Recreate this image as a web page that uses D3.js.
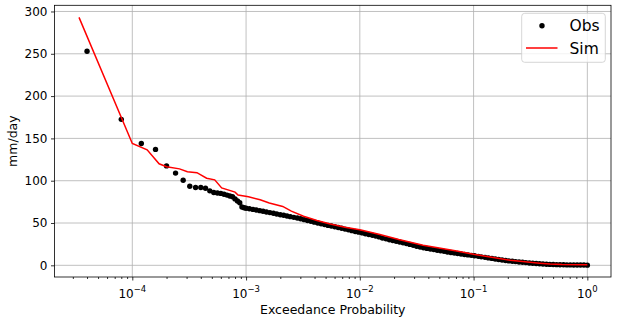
<!DOCTYPE html>
<html><head><meta charset="utf-8">
<script src="https://cdn.jsdelivr.net/npm/d3@7"></script>
<style>body{margin:0;background:#fff}svg{display:block}text{font-family:"DejaVu Sans",sans-serif}</style>
</head><body><svg id="c" width="618" height="324"></svg>
<script>
// Observed flow-duration points: exceedance probability and value (mm/day)
const obsP = [
4.0e-5,8.0e-5,1.2e-4,1.6e-4,2.0e-4,2.4e-4,2.8e-4,3.2e-4,3.6e-4,4.0e-4,
4.4e-4,4.8e-4,5.2e-4,5.6e-4,6.0e-4,6.4e-4,6.8e-4,7.2e-4,7.6e-4,8.0e-4,
8.4e-4,8.8e-4,9.2e-4,9.6e-4,1.0e-3,1.07e-3,1.15e-3,1.23e-3,1.32e-3,1.41e-3,
1.51e-3,1.62e-3,1.74e-3,1.86e-3,2.0e-3,2.14e-3,2.29e-3,2.45e-3,2.63e-3,2.82e-3,
3.02e-3,3.24e-3,3.47e-3,3.72e-3,3.98e-3,4.27e-3,4.57e-3,4.9e-3,5.25e-3,5.62e-3,
6.03e-3,6.46e-3,6.92e-3,7.41e-3,7.94e-3,8.51e-3,9.12e-3,9.77e-3,1.05e-2,1.12e-2,
1.2e-2,1.29e-2,1.38e-2,1.48e-2,1.58e-2,1.7e-2,1.82e-2,1.95e-2,2.09e-2,2.24e-2,
2.4e-2,2.57e-2,2.75e-2,2.95e-2,3.16e-2,3.39e-2,3.63e-2,3.89e-2,4.17e-2,4.47e-2,
4.79e-2,5.13e-2,5.5e-2,5.89e-2,6.31e-2,6.76e-2,7.24e-2,7.76e-2,8.32e-2,8.91e-2,
9.55e-2,0.102,0.11,0.117,0.126,0.135,0.145,0.155,0.166,0.178,
0.191,0.204,0.219,0.234,0.251,0.269,0.288,0.309,0.331,0.355,
0.38,0.407,0.437,0.468,0.501,0.537,0.575,0.617,0.661,0.708,
0.759,0.813,0.871,0.933,1.0];
const obsV = [
253,172.5,144,137,117.5,109,100.5,93.5,92,92,
91,88,86,85.5,85,84,83,82,81,78.5,
76,74,69,68,67.5,66.8,66.1,65.4,64.6,63.9,
63.1,62.3,61.5,60.7,59.8,59.1,58.3,57.5,56.7,55.9,
55,54,53,52,51,50,49,48.1,47.2,46.4,
45.6,44.7,43.8,42.8,41.9,41,40,39.2,38.3,37.4,
36.5,35.6,34.6,33.6,32.3,31.3,30.3,29.4,28.5,27.6,
26.7,25.7,24.7,23.6,22.5,21.6,20.8,20,19.3,18.6,
17.9,17.2,16.5,15.8,15.1,14.5,13.9,13.3,12.8,12.3,
11.8,11.3,10.6,10,9.4,8.8,8.2,7.5,6.9,6.3,
5.7,5.2,4.8,4.4,4,3.6,3.2,2.8,2.4,2.1,
1.8,1.5,1.3,1.1,0.9,0.8,0.7,0.6,0.5,0.5,
0.4,0.4,0.3,0.3,0.2];
// Simulated flow-duration curve
const simP = [3.4e-5,1.0e-4,1.35e-4,1.72e-4,2.0e-4,2.6e-4,3.05e-4,3.7e-4,4.5e-4,5.3e-4,
6.1e-4,8.0e-4,8.5e-4,1.05e-3,1.33e-3,1.6e-3,2.1e-3,2.5e-3,3.2e-3,4.2e-3,
5.5e-3,7.4e-3,1.0e-2,1.5e-2,2.2e-2,3.6e-2,7.1e-2,0.1,0.14,0.21,
0.27,0.38,0.47,0.6,1.0];
const simV = [293,144,136.5,120,116.5,114,110.5,109.5,103,101,
91.5,86.5,83,81,77.5,73.6,69.6,64,58,53,
48.8,45,42,36.5,30.5,23.6,17,13,9.9,6,
4.5,2.5,1.5,1,0.8];
const yTicks = [0,50,100,150,200,250,300];
const xTicks = [1e-4,1e-3,1e-2,1e-1,1];
const xTickExp = ["−4","−3","−2","−1","0"];
const legendLabels = ["Obs","Sim"];

const svg = d3.select("#c");
const L=54.5, R=611, T=5.3, B=277;
const x = d3.scaleLog().domain([Math.pow(10,-4.684), Math.pow(10,0.208)]).range([L,R]);
const y = d3.scaleLinear().domain([-13.8,307.3]).range([B,T]);

// grid
const g = svg.append("g");
g.selectAll(".gx").data(xTicks).enter().append("line")
 .attr("x1",d=>x(d)).attr("x2",d=>x(d)).attr("y1",T).attr("y2",B)
 .attr("stroke","#b0b0b0").attr("stroke-width",0.8);
g.selectAll(".gy").data(yTicks).enter().append("line")
 .attr("x1",L).attr("x2",R).attr("y1",d=>y(d)).attr("y2",d=>y(d))
 .attr("stroke","#b0b0b0").attr("stroke-width",0.8);

// data
const line = d3.line().x((d,i)=>x(simP[i])).y(d=>y(d));
svg.append("g").selectAll("circle").data(obsV).enter().append("circle")
 .attr("cx",(d,i)=>x(obsP[i])).attr("cy",d=>y(d)).attr("r",2.7).attr("fill","#000");
svg.append("path").datum(simV).attr("d",line).attr("fill","none").attr("stroke","#ff0000").attr("stroke-width",1.5);

// axes
const minor=[];
for(let e=-5;e<=0;e++){for(let k=2;k<=9;k++){const v=k*Math.pow(10,e); if(v>x.domain()[0]&&v<x.domain()[1]) minor.push(v);}}
const xa = svg.append("g").attr("transform",`translate(0,${B})`);
xa.call(d3.axisBottom(x).tickValues(minor).tickSize(2).tickFormat(""));
xa.append("g").call(d3.axisBottom(x).tickValues(xTicks).tickSize(3.5).tickFormat(""));
xa.selectAll(".domain").remove();
xa.selectAll("line").attr("stroke","#000").attr("stroke-width",0.8);
const xl = svg.append("g");
xTicks.forEach((t,i)=>{
  const tx = xl.append("text").attr("x",x(t)).attr("y",298).attr("text-anchor","middle").attr("font-size",12).attr("fill","#000");
  tx.append("tspan").text("10");
  tx.append("tspan").attr("dy",-6).attr("font-size",8.5).text(xTickExp[i]);
});
const ya = svg.append("g").attr("transform",`translate(${L},0)`)
 .call(d3.axisLeft(y).tickValues(yTicks).tickSize(3.5).tickPadding(3.5));
ya.select(".domain").remove();
ya.selectAll("line").attr("stroke","#000").attr("stroke-width",0.8);
ya.selectAll("text").attr("font-size",12).attr("font-family","DejaVu Sans").attr("fill","#000");

svg.append("rect").attr("x",L).attr("y",T).attr("width",R-L).attr("height",B-T)
 .attr("fill","none").attr("stroke","#000").attr("stroke-width",0.8);

svg.append("text").attr("x",(L+R)/2).attr("y",314).attr("text-anchor","middle").attr("font-size",12.5).text("Exceedance Probability");
svg.append("text").attr("transform",`translate(17,${(T+B)/2}) rotate(-90)`).attr("text-anchor","middle").attr("font-size",12.5).text("mm/day");

// legend
const lg = svg.append("g");
lg.append("rect").attr("x",521.7).attr("y",13.3).attr("width",83.6).attr("height",49).attr("rx",3)
 .attr("fill","#fff").attr("fill-opacity",0.8).attr("stroke","#cccccc").attr("stroke-width",0.8);
lg.append("circle").attr("cx",542).attr("cy",25.7).attr("r",2.7).attr("fill","#000");
lg.append("line").attr("x1",526).attr("x2",557.5).attr("y1",48).attr("y2",48).attr("stroke","#ff0000").attr("stroke-width",1.5);
lg.selectAll("text.l").data(legendLabels).enter().append("text")
 .attr("x",569.5).attr("y",(d,i)=>31.3+i*22.6).attr("font-size",15.5).text(d=>d);
</script></body></html>
